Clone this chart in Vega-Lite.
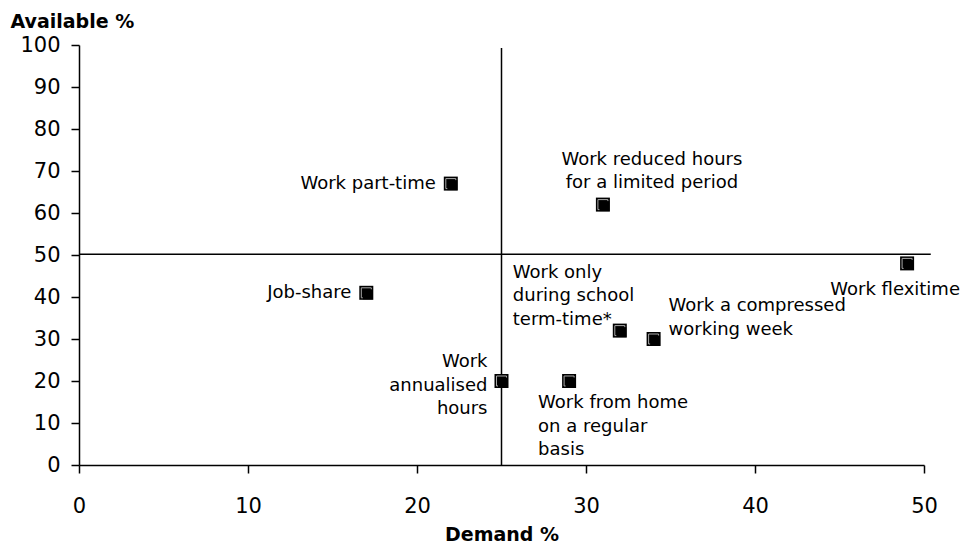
{
  "$schema": "https://vega.github.io/schema/vega-lite/v6.json",
  "width": 845,
  "height": 420,
  "autosize": {"type": "none"},
  "padding": {"left": 79, "top": 45, "right": 51, "bottom": 80},
  "background": "white",
  "config": {
    "view": {"stroke": null},
    "font": "DejaVu Sans",
    "axis": {
      "grid": false,
      "domainColor": "black",
      "domainWidth": 1.5,
      "tickColor": "black",
      "tickWidth": 1.5,
      "tickSize": 8,
      "labelFlush": false,
      "labelOverlap": false,
      "labelFont": "DejaVu Sans",
      "labelFontSize": 21,
      "labelColor": "black",
      "titleFont": "DejaVu Sans",
      "titleFontSize": 19,
      "titleFontWeight": "bold",
      "titleColor": "black"
    },
    "text": {"font": "DejaVu Sans", "fontSize": 18, "color": "black", "lineBreak": "\n", "lineHeight": 23.5, "baseline": "middle"}
  },
  "datasets": {
    "points": [
      {"label": "Work part-time", "demand": 22, "available": 67},
      {"label": "Work reduced hours\nfor a limited period", "demand": 31, "available": 62},
      {"label": "Job-share", "demand": 17, "available": 41},
      {"label": "Work flexitime", "demand": 49, "available": 48},
      {"label": "Work only\nduring school\nterm-time*", "demand": 32, "available": 32},
      {"label": "Work a compressed\nworking week", "demand": 34, "available": 30},
      {"label": "Work\nannualised\nhours", "demand": 25, "available": 20},
      {"label": "Work from home\non a regular\nbasis", "demand": 29, "available": 20}
    ],
    "refs": [
      {"demand": 25, "available": 0, "demand2": 25, "available2": 99.3},
      {"demand": 0, "available": 50.2, "demand2": 50.4, "available2": 50.2}
    ]
  },
  "encoding": {
    "x": {
      "field": "demand",
      "type": "quantitative",
      "scale": {"domain": [0, 50], "nice": false, "zero": false},
      "axis": {
        "title": "Demand %",
        "values": [0, 10, 20, 30, 40, 50],
        "labelPadding": 22,
        "titlePadding": 9
      }
    },
    "y": {
      "field": "available",
      "type": "quantitative",
      "scale": {"domain": [0, 100], "nice": false, "zero": false},
      "axis": {
        "title": "Available %",
        "values": [0, 10, 20, 30, 40, 50, 60, 70, 80, 90, 100],
        "labelPadding": 11,
        "titleAngle": 0,
        "titleAlign": "left",
        "titleBaseline": "alphabetic",
        "titleX": -69,
        "titleY": -18
      }
    }
  },
  "layer": [
    {
      "data": {"name": "refs"},
      "mark": {"type": "rule", "color": "black", "strokeWidth": 1.5},
      "encoding": {"x2": {"field": "demand2"}, "y2": {"field": "available2"}}
    },
    {
      "data": {"name": "points"},
      "mark": {"type": "point", "shape": "square", "filled": true, "color": "black", "opacity": 1, "size": 196}
    },
    {
      "data": {"name": "points"},
      "mark": {"type": "point", "shape": "square", "filled": true, "fill": "black", "stroke": "#a8a8a8", "strokeWidth": 1, "opacity": 1, "size": 100}
    },
    {
      "data": {"name": "points"},
      "mark": {"type": "point", "shape": "square", "filled": true, "color": "black", "opacity": 1, "size": 100, "xOffset": 1.5, "yOffset": 1.5}
    },
    {
      "data": {"name": "points"},
      "transform": [{"filter": "datum.label == 'Work part-time'"}],
      "mark": {"type": "text", "align": "right", "dx": -15, "dy": 0},
      "encoding": {"text": {"field": "label"}}
    },
    {
      "data": {"name": "points"},
      "transform": [{"filter": "datum.label == 'Job-share'"}],
      "mark": {"type": "text", "align": "right", "dx": -15, "dy": 0},
      "encoding": {"text": {"field": "label"}}
    },
    {
      "data": {"name": "points"},
      "transform": [{"filter": "indexof(datum.label, 'reduced') >= 0"}],
      "mark": {"type": "text", "align": "center", "dx": 49, "dy": -45},
      "encoding": {"text": {"field": "label"}}
    },
    {
      "data": {"name": "points"},
      "transform": [{"filter": "datum.label == 'Work flexitime'"}],
      "mark": {"type": "text", "align": "center", "dx": -12, "dy": 27},
      "encoding": {"text": {"field": "label"}}
    },
    {
      "data": {"name": "points"},
      "transform": [{"filter": "indexof(datum.label, 'school') >= 0"}],
      "mark": {"type": "text", "align": "left", "dx": -107, "dy": -58},
      "encoding": {"text": {"field": "label"}}
    },
    {
      "data": {"name": "points"},
      "transform": [{"filter": "indexof(datum.label, 'compressed') >= 0"}],
      "mark": {"type": "text", "align": "left", "dx": 15, "dy": -33},
      "encoding": {"text": {"field": "label"}}
    },
    {
      "data": {"name": "points"},
      "transform": [{"filter": "indexof(datum.label, 'annualised') >= 0"}],
      "mark": {"type": "text", "align": "right", "dx": -14, "dy": -19},
      "encoding": {"text": {"field": "label"}}
    },
    {
      "data": {"name": "points"},
      "transform": [{"filter": "indexof(datum.label, 'home') >= 0"}],
      "mark": {"type": "text", "align": "left", "dx": -31, "dy": 22},
      "encoding": {"text": {"field": "label"}}
    }
  ]
}
